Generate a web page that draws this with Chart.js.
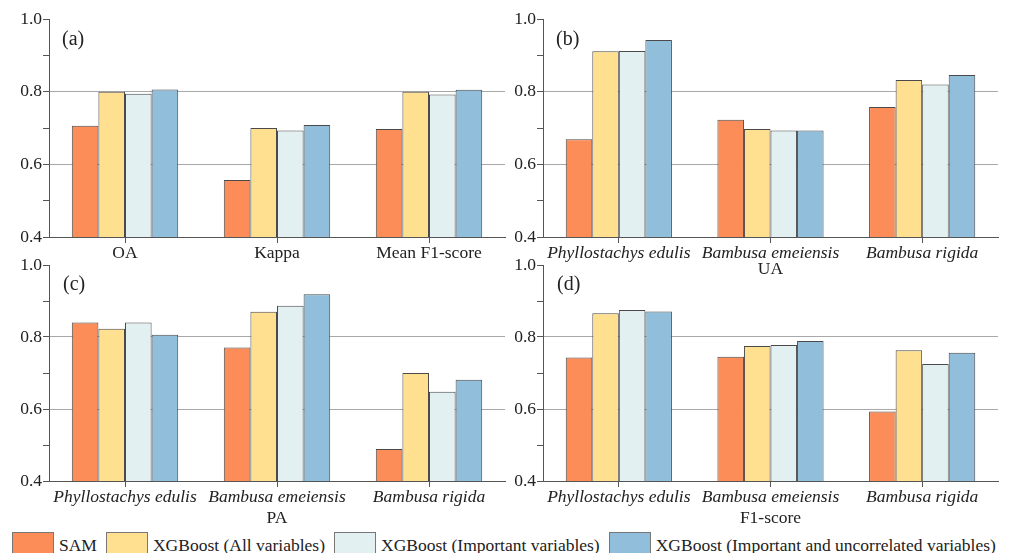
<!DOCTYPE html>
<html>
<head>
<meta charset="utf-8">
<script src="https://cdn.jsdelivr.net/npm/chart.js@4/dist/chart.umd.min.js"></script>
<style>
  html, body { margin:0; padding:0; background:#fff; }
  body { width:1019px; height:553px; position:relative; overflow:hidden; font-family:"Liberation Serif", serif; color:#222; }
  .pane { position:absolute; }
  .plabel { position:absolute; font-size:20px; line-height:20px; color:#222; }
  #legend { position:absolute; left:12px; top:532px; display:flex; align-items:flex-start; font-size:17.5px; }
  .lbox { width:42px; height:24px; border:1px solid #777; box-sizing:border-box; margin-right:5px; }
  .ltext { margin-right:9px; line-height:22px; padding-top:2px; white-space:nowrap; }
</style>
</head>
<body>
<div class="pane" style="left:0;top:0;width:510px;height:280px"><canvas id="ca" width="510" height="280"></canvas></div>
<div class="pane" style="left:495px;top:0;width:524px;height:280px"><canvas id="cb" width="524" height="280"></canvas></div>
<div class="pane" style="left:0;top:245px;width:510px;height:284px"><canvas id="cc" width="510" height="284"></canvas></div>
<div class="pane" style="left:495px;top:245px;width:524px;height:284px"><canvas id="cd" width="524" height="284"></canvas></div>
<div class="plabel" style="left:62px;top:28px">(a)</div>
<div class="plabel" style="left:556px;top:28px">(b)</div>
<div class="plabel" style="left:63px;top:273px">(c)</div>
<div class="plabel" style="left:557px;top:273px">(d)</div>
<div id="legend"></div>
<script>
// ---- data ----
const seriesNames = ['SAM', 'XGBoost (All variables)', 'XGBoost (Important variables)', 'XGBoost (Important and uncorrelated variables)'];
const seriesColors = ['#FC8D59', '#FEE090', '#E3F0F2', '#91BFDB'];

const metricCats = ['OA', 'Kappa', 'Mean F1-score'];
const speciesCats = ['Phyllostachys edulis', 'Bambusa emeiensis', 'Bambusa rigida'];
const yTickValues = [0.4, 0.6, 0.8, 1.0];

// (a) overall
const overallSAM     = [0.706, 0.557, 0.697];
const overallAll     = [0.800, 0.700, 0.800];
const overallImp     = [0.794, 0.693, 0.792];
const overallImpUnc  = [0.806, 0.708, 0.805];
// (b) UA
const uaSAM    = [0.669, 0.723, 0.758];
const uaAll    = [0.911, 0.697, 0.832];
const uaImp    = [0.912, 0.693, 0.820];
const uaImpUnc = [0.942, 0.693, 0.846];
// (c) PA
const paSAM    = [0.840, 0.771, 0.489];
const paAll    = [0.823, 0.870, 0.700];
const paImp    = [0.840, 0.887, 0.648];
const paImpUnc = [0.806, 0.919, 0.681];
// (d) F1-score
const f1SAM    = [0.743, 0.745, 0.593];
const f1All    = [0.866, 0.775, 0.763];
const f1Imp    = [0.875, 0.778, 0.725];
const f1ImpUnc = [0.871, 0.789, 0.756];

// ---- chart setup ----
Chart.defaults.font.family = '"Liberation Serif", serif';
Chart.defaults.font.size = 17.5;
Chart.defaults.color = '#222';

const AXIS = '#555';

function makeChart(id, cats, values, opts) {
  const datasets = values.map((d, i) => ({
    label: seriesNames[i],
    data: d,
    backgroundColor: seriesColors[i],
    borderColor: '#4a4a4a',
    borderWidth: 1,
    categoryPercentage: 0.7,
    barPercentage: 1.0
  }));
  return new Chart(document.getElementById(id), {
    type: 'bar',
    data: { labels: cats, datasets },
    options: {
      responsive: false,
      animation: false,
      events: [],
      layout: { padding: { top: opts.padTop, right: opts.padRight, left: 0, bottom: 0 } },
      plugins: { legend: { display: false }, tooltip: { enabled: false }, title: { display: false } },
      scales: {
        x: {
          offset: true,
          grid: { display: true, drawOnChartArea: false, offset: false, tickLength: 6, tickColor: AXIS, tickWidth: 1 },
          border: { display: true, color: AXIS, width: 1 },
          ticks: { padding: 0, maxRotation: 0, autoSkip: false, font: { style: opts.italic ? 'italic' : 'normal', size: 17.5 } },
          title: { display: !!opts.title, text: opts.title || '', padding: { top: 0, bottom: 0 }, font: { size: 17.5 } },
          afterFit: s => { s.height = opts.xHeight; }
        },
        y: {
          min: 0.4, max: 1.0,
          ticks: {
            stepSize: 0.1,
            padding: 1,
            font: { size: 17.5 },
            callback: v => yTickValues.some(t => Math.abs(t - v) < 1e-6) ? v.toFixed(1) : ''
          },
          grid: {
            drawOnChartArea: true,
            tickLength: 6,
            tickColor: AXIS,
            color: c => (c.tick && (Math.abs(c.tick.value - 0.6) < 1e-6 || Math.abs(c.tick.value - 0.8) < 1e-6)) ? '#a8a8a8' : 'rgba(0,0,0,0)'
          },
          border: { display: true, color: AXIS, width: 1 },
          afterFit: s => { s.width = opts.yWidth; }
        }
      }
    }
  });
}

makeChart('ca', metricCats, [overallSAM, overallAll, overallImp, overallImpUnc],
  { padTop: 19, padRight: 5, xHeight: 43, yWidth: 49, italic: false, title: null });
makeChart('cb', speciesCats, [uaSAM, uaAll, uaImp, uaImpUnc],
  { padTop: 19, padRight: 21, xHeight: 43, yWidth: 48, italic: true, title: 'UA' });
makeChart('cc', speciesCats, [paSAM, paAll, paImp, paImpUnc],
  { padTop: 20, padRight: 5, xHeight: 48, yWidth: 49, italic: true, title: 'PA' });
makeChart('cd', speciesCats, [f1SAM, f1All, f1Imp, f1ImpUnc],
  { padTop: 20, padRight: 21, xHeight: 48, yWidth: 48, italic: true, title: 'F1-score' });

// ---- legend ----
const leg = document.getElementById('legend');
seriesNames.forEach((n, i) => {
  const b = document.createElement('div');
  b.className = 'lbox';
  b.style.background = seriesColors[i];
  const t = document.createElement('div');
  t.className = 'ltext';
  t.textContent = n;
  leg.appendChild(b);
  leg.appendChild(t);
});
</script>
</body>
</html>
